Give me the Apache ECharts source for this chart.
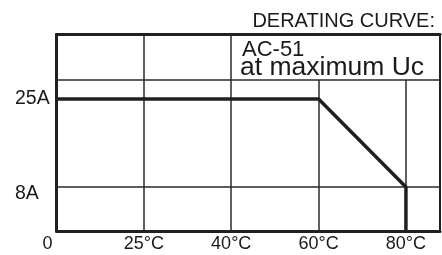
<!DOCTYPE html>
<html>
<head>
<meta charset="utf-8">
<script src="https://cdn.jsdelivr.net/npm/echarts@6/dist/echarts.min.js"></script>
<style>
  html, body { margin: 0; padding: 0; background: #fff; }
  #chart { width: 442px; height: 255px; }
</style>
</head>
<body>
<div id="chart"></div>
<script>
// tick values (the chart draws them at equal steps, not to scale)
const tempTicks = [0, 25, 40, 60, 80];
const tempLabels = ['0', '25°C', '40°C', '60°C', '80°C'];
const currentTicks = [8, 25];
const currentLabels = ['8A', '25A'];

// derating curve: AC-51 at maximum Uc
const curveTemp = [0, 60, 80, 80];
const curveCurrent = [25, 25, 8, 0];

// piecewise scale: ticks sit on evenly spaced slots
function interp(v, from, to) {
  for (let i = 0; i < from.length - 1; i++) {
    if (v <= from[i + 1]) {
      return to[i] + (v - from[i]) / (from[i + 1] - from[i]) * (to[i + 1] - to[i]);
    }
  }
  return to[to.length - 1];
}
const xPos = t => interp(t, tempTicks, tempTicks.map((_, i) => i));
const yPos = a => interp(a, [0, 8, 25], [0, 1, 3]);

const X_MAX = 4.39;
const Y_MAX = 4.466;
const Y_BOX = 3.43;   // line under the text box
const ink = '#231f20';
const gridInk = '#2a2a2a';

const chart = echarts.init(document.getElementById('chart'));

const gridSegs = [];
// vertical grid lines
tempTicks.slice(1).forEach(t => {
  const x = xPos(t);
  const top = x >= 3 ? Y_BOX : Y_MAX;
  gridSegs.push([{ coord: [x, 0] }, { coord: [x, top] }]);
});
// horizontal grid lines
gridSegs.push([{ coord: [0, yPos(8)] }, { coord: [X_MAX, yPos(8)] }]);
gridSegs.push([{ coord: [0, Y_BOX] }, { coord: [X_MAX, Y_BOX] }]);

const option = {
  animation: false,
  grid: {
    left: 56.5, right: 2, top: 34.5, bottom: 24,
    show: true, borderColor: ink, borderWidth: 2
  },
  xAxis: [
    {
      type: 'value', min: 0, max: X_MAX,
      axisLine: { show: true, lineStyle: { color: ink, width: 3 } },
      axisTick: { show: false },
      splitLine: { show: false },
      axisLabel: {
        customValues: tempTicks.map(xPos),
        margin: 4,
        color: '#1a1a1a',
        fontFamily: 'Liberation Sans',
        fontSize: 18,
        formatter: v => {
          const i = Math.round(v);
          return i === 0 ? '{zero|' + tempLabels[i] + '}' : tempLabels[i];
        },
        rich: {
          zero: { fontFamily: 'Liberation Sans', fontSize: 18, color: '#1a1a1a', padding: [0, 18, 0, 0] }
        }
      }
    },
    {
      type: 'value', min: 0, max: X_MAX, position: 'top',
      axisLine: { show: true, onZero: false, lineStyle: { color: ink, width: 3 } },
      axisTick: { show: false }, axisLabel: { show: false }, splitLine: { show: false }
    }
  ],
  yAxis: {
    type: 'value', min: 0, max: Y_MAX,
    axisLine: { show: true, lineStyle: { color: ink, width: 3 } },
    axisTick: { show: false },
    splitLine: { show: false },
    axisLabel: {
      customValues: currentTicks.map(yPos),
      margin: 41.5,
      align: 'left',
      color: '#1a1a1a',
      fontFamily: 'Liberation Sans',
      fontSize: 19.5,
      formatter: v => {
        const i = currentTicks.map(yPos).findIndex(p => Math.abs(p - v) < 1e-6);
        return i === 0 ? '{low|' + currentLabels[i] + '}' : currentLabels[i];
      },
      rich: {
        low: { fontFamily: 'Liberation Sans', fontSize: 19.5, color: '#1a1a1a', padding: [14, 0, 0, 0] }
      }
    }
  },
  graphic: [
    {
      type: 'text', x: 435, y: 21.5,
      style: { text: 'DERATING CURVE:', font: '20px "Liberation Sans"', fill: '#1a1a1a', align: 'right', verticalAlign: 'middle' }
    },
    {
      type: 'text', x: 242, y: 50,
      style: { text: 'AC-51', font: '22px "Liberation Sans"', fill: '#1a1a1a', align: 'left', verticalAlign: 'middle' }
    },
    {
      type: 'text', x: 240, y: 67.5,
      style: { text: 'at maximum Uc', font: '26.5px "Liberation Sans"', fill: '#1a1a1a', align: 'left', verticalAlign: 'middle' }
    }
  ],
  series: [
    {
      type: 'line',
      data: [],
      silent: true,
      markLine: {
        silent: true,
        symbol: 'none',
        label: { show: false },
        lineStyle: { color: gridInk, width: 1.5, type: 'solid' },
        data: gridSegs
      }
    },
    {
      name: 'AC-51',
      type: 'line',
      data: curveTemp.map((t, i) => [xPos(t), yPos(curveCurrent[i])]),
      symbol: 'none',
      z: 5,
      lineStyle: { color: ink, width: 3.5, join: 'miter' }
    }
  ]
};
chart.setOption(option);
</script>
</body>
</html>
